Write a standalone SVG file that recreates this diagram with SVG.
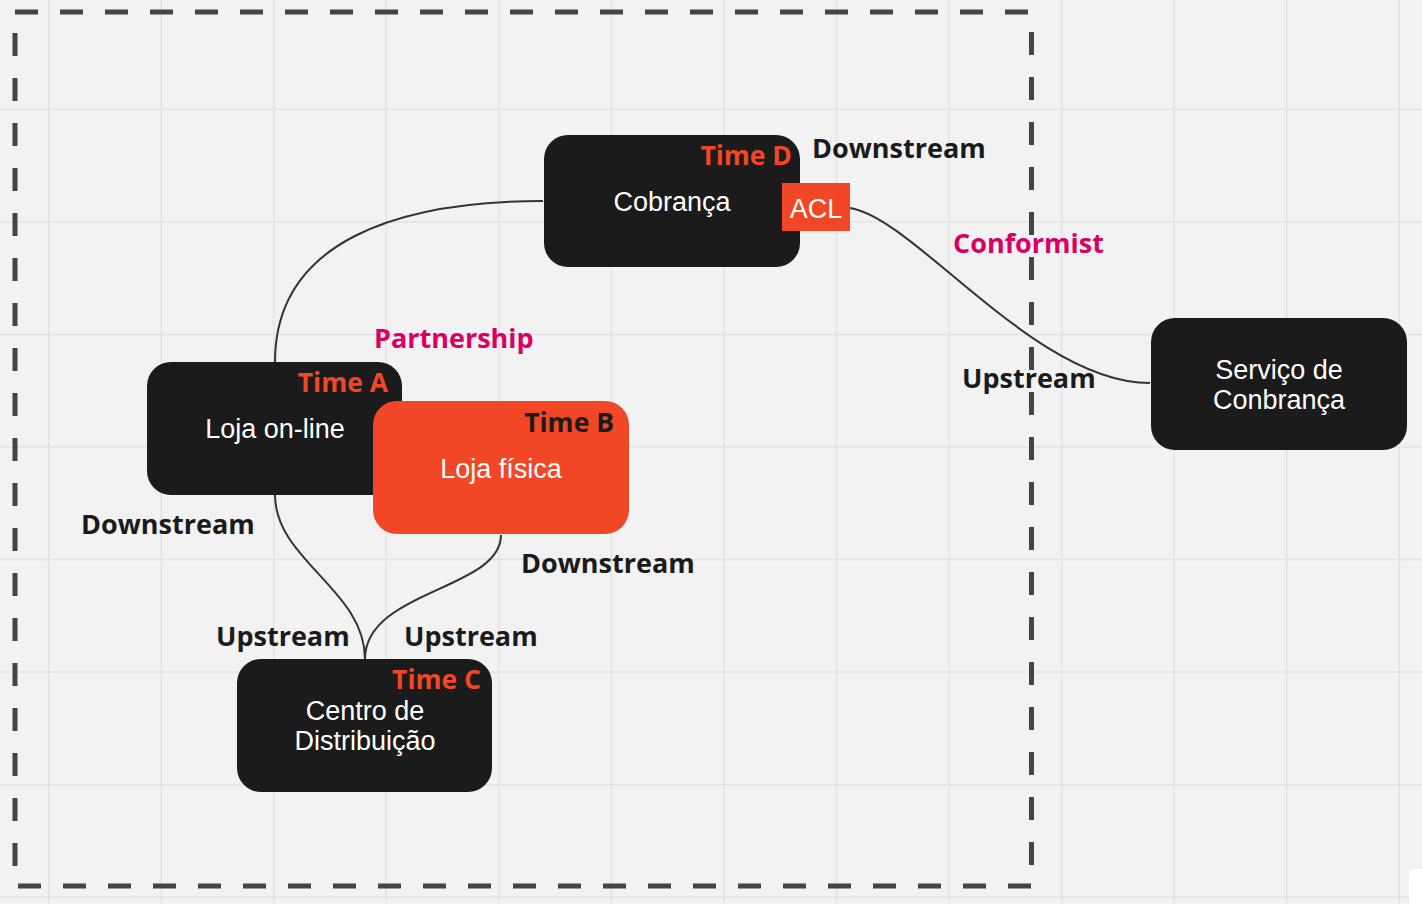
<svg xmlns="http://www.w3.org/2000/svg" width="1422" height="904" viewBox="0 0 1422 904">
<style>
.grid line{stroke:#e3e3e3;stroke-width:1.5}
.frame{stroke:#444;stroke-width:5;stroke-dasharray:23 22;fill:none}
.box{fill:#1b1b1b}
.org{fill:#f24726}
.nt{font-family:"Liberation Sans",Arial,sans-serif;font-size:27px;fill:#fff;text-anchor:middle}
.team{font-family:"Open Sans","Noto Sans",sans-serif;font-weight:700;font-size:26.5px;text-anchor:end;fill:#f24726}
.lbl{font-family:"Open Sans","Noto Sans",sans-serif;font-weight:700;font-size:27px;fill:#1b1b1b}
.mg{fill:#da0063}
.conn path{fill:none;stroke:#333;stroke-width:2}
</style>
<rect width="1422" height="904" fill="#f2f2f2"/>
<g class="grid">
<line x1="48.7" y1="0" x2="48.7" y2="904"/>
<line x1="161.2" y1="0" x2="161.2" y2="904"/>
<line x1="273.8" y1="0" x2="273.8" y2="904"/>
<line x1="386.3" y1="0" x2="386.3" y2="904"/>
<line x1="498.9" y1="0" x2="498.9" y2="904"/>
<line x1="611.4" y1="0" x2="611.4" y2="904"/>
<line x1="724" y1="0" x2="724" y2="904"/>
<line x1="836.5" y1="0" x2="836.5" y2="904"/>
<line x1="949.1" y1="0" x2="949.1" y2="904"/>
<line x1="1061.6" y1="0" x2="1061.6" y2="904"/>
<line x1="1174.2" y1="0" x2="1174.2" y2="904"/>
<line x1="1286.7" y1="0" x2="1286.7" y2="904"/>
<line x1="1399.3" y1="0" x2="1399.3" y2="904"/>
<line x1="0" y1="109.3" x2="1422" y2="109.3"/>
<line x1="0" y1="221.9" x2="1422" y2="221.9"/>
<line x1="0" y1="334.4" x2="1422" y2="334.4"/>
<line x1="0" y1="447" x2="1422" y2="447"/>
<line x1="0" y1="559.6" x2="1422" y2="559.6"/>
<line x1="0" y1="672.1" x2="1422" y2="672.1"/>
<line x1="0" y1="784.7" x2="1422" y2="784.7"/>
<line x1="0" y1="897.3" x2="1422" y2="897.3"/>
</g>
<g id="boundary">
<line class="frame" x1="15" y1="12" x2="1034" y2="12"/>
<line class="frame" x1="15" y1="33" x2="15" y2="870"/>
<line class="frame" x1="18" y1="886" x2="1034" y2="886"/>
<line class="frame" x1="1031.5" y1="32" x2="1031.5" y2="870"/>
</g>
<rect x="1409" y="869" width="30" height="60" rx="5" fill="#fff"/>
<g id="connectors" class="conn">
<path d="M543,201 C400,201 275,240 275,362"/>
<path d="M850,208 C915,218 1035,383 1150,383"/>
<path d="M275,495 C275,560 365,590 365,659"/>
<path d="M501,535 C501,590 365,590 365,659"/>
</g>
<g id="node-cobranca">
<rect class="box" x="544" y="135" width="256" height="132" rx="24"/>
<text class="team" x="792" y="165">Time D</text>
<text class="nt" x="672" y="211">Cobrança</text>
</g>
<g id="node-acl">
<rect class="org" x="782" y="183" width="68" height="48"/>
<text class="nt" x="816" y="218">ACL</text>
</g>
<g id="node-loja-online">
<rect class="box" x="147" y="362" width="255" height="133" rx="24"/>
<text class="team" x="388" y="392">Time A</text>
<text class="nt" x="275" y="438">Loja on-line</text>
</g>
<g id="node-loja-fisica">
<rect class="org" x="373" y="401" width="256" height="133" rx="24"/>
<text class="team" x="614" y="432" style="fill:#1b1b1b">Time B</text>
<text class="nt" x="501" y="478">Loja física</text>
</g>
<g id="node-centro">
<rect class="box" x="237" y="659" width="255" height="133" rx="24"/>
<text class="team" x="481" y="689">Time C</text>
<text class="nt" x="365" y="720">Centro de</text>
<text class="nt" x="365" y="750">Distribuição</text>
</g>
<g id="node-servico">
<rect class="box" x="1151" y="318" width="256" height="132" rx="24"/>
<text class="nt" x="1279" y="379">Serviço de</text>
<text class="nt" x="1279" y="409">Conbrança</text>
</g>
<g id="labels">
<text class="lbl" x="812" y="158">Downstream</text>
<text class="lbl mg" x="953" y="253">Conformist</text>
<text class="lbl" x="962" y="388">Upstream</text>
<text class="lbl mg" x="374" y="348">Partnership</text>
<text class="lbl" x="81" y="534">Downstream</text>
<text class="lbl" x="521" y="573">Downstream</text>
<text class="lbl" x="216" y="646">Upstream</text>
<text class="lbl" x="404" y="646">Upstream</text>
</g>
</svg>
